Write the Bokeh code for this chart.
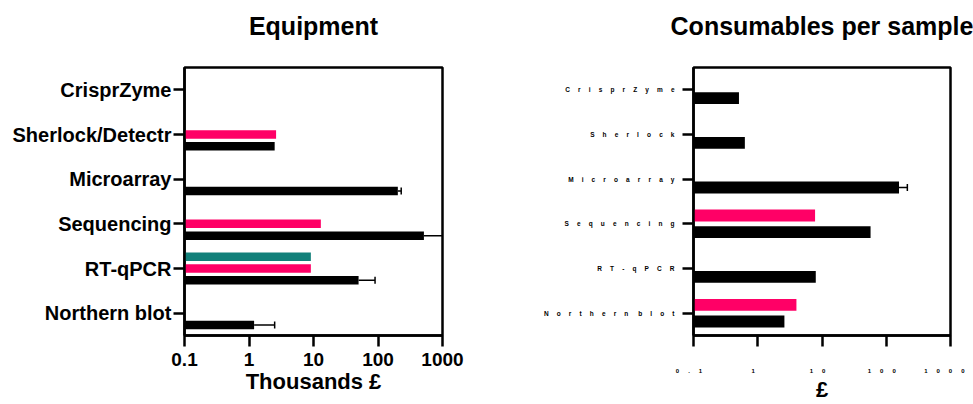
from bokeh.plotting import figure
from bokeh.models import ColumnDataSource, FactorRange, Range1d, FixedTicker, Whisker, TeeHead
from bokeh.transform import dodge
from bokeh.layouts import row
from bokeh.embed import file_html
from bokeh.resources import INLINE

FONT = "Liberation Sans"
BLACK = "#000000"
PINK = "#ff0066"
TEAL = "#12807a"

# ---- Equipment (thousands £) ----
eq_categories = ["Northern blot", "RT-qPCR", "Sequencing", "Microarray", "Sherlock/Detectr", "CrisprZyme"]
eq_black = [1.2, 50, 515, 203, 2.5, None]
eq_black_upper = [2.5, 90, 1200, 229, None, None]
eq_pink = [None, 9.1, 13, None, 2.63, None]
eq_teal = [None, 9.1, None, None, None, None]

# ---- Consumables per sample (£) ----
co_categories = ["Northern blot", "RT-qPCR", "Sequencing", "Microarray", "Sherlock", "CrisprZyme"]
co_black = [2.6, 8.0, 57, 158, 0.63, 0.51]
co_black_upper = [None, None, None, 213, None, None]
co_pink = [4.0, None, 7.8, None, None, None]

x_ticks = [0.1, 1, 10, 100, 1000]
x_tick_labels = ["0.1", "1", "10", "100", "1000"]
x_start, x_end = 0.1, 1000


def spaced(s, gap, trailing=False):
    words = [gap.join(w) for w in s.split(" ")]
    out = (gap + " ").join(words)
    return out + (gap if trailing else "")


def source(cats, vals, upper=None):
    d = {"cat": [], "val": [], "up": []}
    for i, (c, v) in enumerate(zip(cats, vals)):
        if v is None:
            continue
        d["cat"].append(c)
        d["val"].append(v)
        d["up"].append(upper[i] if upper is not None else None)
    return ColumnDataSource(d)


def make_panel(title, cats, width, border_left, border_right, xlabel):
    # trailing empty line lifts the title away from the plot frame
    p = figure(width=width, height=404, x_axis_type="log",
               x_range=Range1d(x_start, x_end), y_range=FactorRange(factors=cats),
               output_backend="svg", toolbar_location=None, title=title + "\n",
               min_border_left=border_left, min_border_right=border_right,
               min_border_top=67, min_border_bottom=68)
    p.xgrid.visible = False
    p.ygrid.visible = False
    p.outline_line_color = "black"
    p.outline_line_width = 2.5
    p.outline_line_alpha = 1
    p.title.align = "center"
    p.title.vertical_align = "bottom"
    p.title.text_font = FONT
    p.title.text_font_style = "bold"
    p.title.text_font_size = "25px"
    p.title.text_color = "black"
    p.title.standoff = 0
    for ax in (p.xaxis[0], p.yaxis[0]):
        ax.axis_line_width = 2.5
        ax.axis_line_color = "black"
        ax.major_tick_line_width = 2.5
        ax.major_tick_line_color = "black"
        ax.major_tick_out = 11
        ax.major_tick_in = 0
        ax.minor_tick_line_color = None
        ax.major_label_text_font = FONT
        ax.major_label_text_font_style = "bold"
        ax.major_label_text_color = "black"
        ax.axis_label_text_font = FONT
        ax.axis_label_text_font_style = "bold"
        ax.axis_label_text_color = "black"
    p.xaxis[0].ticker = FixedTicker(ticks=x_ticks, minor_ticks=[])
    p.xaxis[0].axis_label = xlabel
    p.xaxis[0].axis_label_text_font_size = "22px"
    p.xaxis[0].axis_label_standoff = 0
    return p


def add_bars(p, cats, vals, offset, height, color, upper=None):
    src = source(cats, vals, upper)
    y = dodge("cat", offset, range=p.y_range)
    p.hbar(y=y, left=x_start, right="val", height=height, source=src,
           fill_color=color, line_color=None)
    if upper is not None:
        esrc = ColumnDataSource({k: [a for a, u in zip(src.data[k], src.data["up"]) if u is not None]
                                 for k in ("cat", "val", "up")})
        w = Whisker(source=esrc, base=dodge("cat", offset, range=p.y_range),
                    lower="val", upper="up", dimension="width",
                    line_color="black", line_width=1.5,
                    upper_head=TeeHead(size=7, line_width=1.5, line_color="black"),
                    lower_head=None)
        p.add_layout(w)


# ---- left panel ----
p1 = make_panel("Equipment", eq_categories, 480, 184, 38, "Thousands £")
p1.xaxis[0].major_label_overrides = {t: l for t, l in zip(x_ticks, x_tick_labels)}
p1.xaxis[0].major_label_text_font_size = "19px"
p1.xaxis[0].major_label_standoff = 6
p1.yaxis[0].major_label_text_font_size = "20px"
p1.yaxis[0].major_label_standoff = 2
add_bars(p1, eq_categories, eq_teal, 0.265, 0.19, TEAL)
add_bars(p1, eq_categories, eq_pink, 0.0, 0.19, PINK)
add_bars(p1, eq_categories, eq_black, -0.265, 0.19, BLACK, eq_black_upper)

# ---- right panel (letter-spaced labels as in the original export) ----
CAT_GAP = "\u2003\u2005"
TICK_GAP = "\u2003\u2002"
co_display = [spaced(c, CAT_GAP) for c in co_categories]
p2 = make_panel("Consumables per sample", co_display, 493, 213, 23, "£")
p2.xaxis[0].major_label_overrides = {t: spaced(l, TICK_GAP, trailing=True)
                                     for t, l in zip(x_ticks, x_tick_labels)}
p2.xaxis[0].major_label_text_font_size = "6px"
p2.xaxis[0].major_label_standoff = 21
p2.yaxis[0].major_label_text_font_size = "6.5px"
p2.yaxis[0].major_label_standoff = 8
add_bars(p2, co_display, co_pink, 0.187, 0.265, PINK)
add_bars(p2, co_display, co_black, -0.187, 0.265, BLACK, co_black_upper)

layout = row(p1, p2)
open("out.html", "w").write(file_html(layout, INLINE))
